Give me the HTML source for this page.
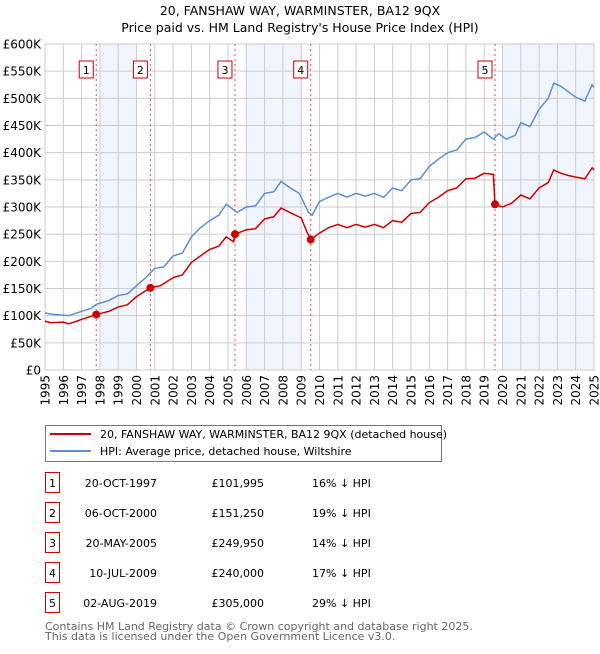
<!DOCTYPE html>
<html><head><meta charset="utf-8"><style>
body{margin:0;background:#fff;width:600px;height:650px;overflow:hidden;font-family:"DejaVu Sans","Liberation Sans",sans-serif}
svg text{font-family:"DejaVu Sans","Liberation Sans",sans-serif}
</style></head><body>
<svg id="c" width="600" height="650" xmlns="http://www.w3.org/2000/svg"></svg>
<script>
const yTicks=[0,50000,100000,150000,200000,250000,300000,350000,400000,450000,500000,550000,600000];
const yTickLabels=["£0","£50K","£100K","£150K","£200K","£250K","£300K","£350K","£400K","£450K","£500K","£550K","£600K"];
const xYears=[1995,1996,1997,1998,1999,2000,2001,2002,2003,2004,2005,2006,2007,2008,2009,2010,2011,2012,2013,2014,2015,2016,2017,2018,2019,2020,2021,2022,2023,2024,2025];
const shadeBands=[[1998,2000],[2006,2009],[2020,2025]];
const hpiT=[1995,1995.5,1996,1996.3,1997,1997.5,1997.8,1998.5,1999,1999.5,2000,2000.5,2001,2001.5,2002,2002.5,2003,2003.5,2004,2004.5,2004.9,2005.5,2006,2006.5,2007,2007.5,2007.9,2008.5,2008.9,2009.4,2009.6,2010,2010.5,2011,2011.5,2012,2012.5,2013,2013.5,2014,2014.5,2015,2015.5,2016,2016.5,2017,2017.5,2018,2018.5,2019,2019.5,2019.8,2020.2,2020.7,2021,2021.5,2022,2022.5,2022.8,2023.2,2023.6,2024,2024.5,2024.9,2025];
const hpiV=[105000,102000,101000,100000,108000,113000,121000,128000,137000,140000,155000,170000,187000,190000,210000,215000,245000,262000,275000,285000,305000,290000,300000,302000,325000,328000,347000,333000,325000,290000,285000,310000,318000,325000,318000,325000,320000,325000,318000,335000,330000,350000,352000,375000,388000,400000,405000,425000,428000,438000,425000,435000,425000,432000,455000,448000,480000,500000,528000,522000,512000,502000,495000,525000,520000];
const ppT=[1995,1995.3,1996,1996.3,1997,1997.8,1998.5,1999,1999.5,2000,2000.76,2001.3,2002,2002.5,2003,2003.5,2004,2004.5,2004.9,2005.3,2005.38,2006,2006.5,2007,2007.5,2007.9,2008.5,2009,2009.3,2009.52,2010,2010.5,2011,2011.5,2012,2012.5,2013,2013.5,2014,2014.5,2015,2015.5,2016,2016.5,2017,2017.5,2018,2018.5,2019,2019.5,2019.59,2020,2020.5,2021,2021.5,2022,2022.5,2022.8,2023.2,2023.6,2024,2024.5,2024.9,2025];
const ppV=[90000,87000,88000,85000,93000,102000,108000,116000,120000,135000,151250,155000,170000,175000,198000,210000,222000,228000,245000,236000,249950,258000,260000,278000,282000,298000,288000,280000,255000,240000,252000,262000,268000,262000,268000,263000,268000,262000,275000,272000,288000,290000,308000,318000,330000,335000,352000,353000,362000,360000,305000,300000,307000,322000,315000,335000,345000,368000,362000,358000,355000,352000,372000,368000];
const saleT=[1997.8,2000.76,2005.38,2009.52,2019.59];
const saleV=[101995,151250,249950,240000,305000];
const saleLabels=["1","2","3","4","5"];
const saleDates=["20-OCT-1997","06-OCT-2000","20-MAY-2005","10-JUL-2009","02-AUG-2019"];
const salePrices=["£101,995","£151,250","£249,950","£240,000","£305,000"];
const saleHpi=["16% ↓ HPI","19% ↓ HPI","14% ↓ HPI","17% ↓ HPI","29% ↓ HPI"];

const L=45,R=594,T=44,B=370;
const x=t=>L+(t-1995)/30*(R-L);
const y=v=>B-v/600000*(B-T);
const s=document.getElementById('c');
const NS='http://www.w3.org/2000/svg';
function mk(tag,attrs,txt){const e=document.createElementNS(NS,tag);for(const k in attrs)e.setAttribute(k,attrs[k]);if(txt!==undefined)e.textContent=txt;s.appendChild(e);return e;}

let e;
e=mk('text',{x:300,y:15,'text-anchor':'middle','font-size':12.5,fill:'#000'},'20, FANSHAW WAY, WARMINSTER, BA12 9QX');


e=mk('text',{x:300,y:32,'text-anchor':'middle','font-size':12.5,fill:'#000'},"Price paid vs. HM Land Registry's House Price Index (HPI)");



shadeBands.forEach(b=>{
 e=mk('rect',{x:x(b[0]),y:T,width:x(b[1])-x(b[0]),height:B-T,fill:'#eef3fc',opacity:0.8});
 
 
});
yTicks.forEach((v,i)=>{
 e=mk('line',{x1:L,x2:R,y1:y(v),y2:y(v),stroke:'#cccccc','stroke-width':1});
 
 
 e=mk('text',{x:L-4,y:y(v)+4.5,'text-anchor':'end','font-size':12,fill:'#000'},yTickLabels[i]);
 
 
});
xYears.forEach(t=>{
 e=mk('line',{x1:x(t),x2:x(t),y1:T,y2:B,stroke:'#cccccc','stroke-width':1});
 
 
 e=mk('text',{x:0,y:0,transform:`translate(${x(t)+4.5},${B+5}) rotate(-90)`,'text-anchor':'end','font-size':12,fill:'#000'},String(t));
 
 
});
e=mk('rect',{x:L,y:T,width:R-L,height:B-T,fill:'none',stroke:'#cccccc'});



saleT.forEach((t,i)=>{
 e=mk('line',{x1:x(t),x2:x(t),y1:T,y2:B,stroke:'#e05050','stroke-width':1,'stroke-dasharray':'2,3'});
 
 
 const bx=x(t)-17;
 e=mk('rect',{x:bx,y:61,width:14,height:17,fill:'#fff',stroke:'#cc0000','stroke-width':1});
 
 
 e=mk('text',{x:bx+7,y:74,'text-anchor':'middle','font-size':11,fill:'#000'},saleLabels[i]);
 
 
});

e=mk('polyline',{points:hpiT.map((t,i)=>x(t)+','+y(hpiV[i])).join(' '),fill:'none',stroke:'#5b8fd4','stroke-width':1.5});


e=mk('polyline',{points:ppT.map((t,i)=>x(t)+','+y(ppV[i])).join(' '),fill:'none',stroke:'#cc0000','stroke-width':1.5});


saleT.forEach((t,i)=>{
 e=mk('circle',{cx:x(t),cy:y(saleV[i]),r:4,fill:'#cc0000'});
 
 
});

e=mk('rect',{x:45.5,y:425.5,width:396,height:36,fill:'#fff',stroke:'#777'});


e=mk('line',{x1:50,x2:91,y1:434,y2:434,stroke:'#cc0000','stroke-width':2});


e=mk('text',{x:100,y:438,'font-size':11,fill:'#000'},'20, FANSHAW WAY, WARMINSTER, BA12 9QX (detached house)');


e=mk('line',{x1:50,x2:91,y1:451,y2:451,stroke:'#5b8fd4','stroke-width':2});


e=mk('text',{x:100,y:455,'font-size':11,fill:'#000'},'HPI: Average price, detached house, Wiltshire');



saleLabels.forEach((lab,i)=>{
 const cy=483+i*30;
 e=mk('rect',{x:45.5,y:cy-10.5,width:14,height:20,fill:'#fff',stroke:'#cc0000'});
 
 
 e=mk('text',{x:52.5,y:cy+4,'text-anchor':'middle','font-size':11,fill:'#000'},lab);
 
 
 e=mk('text',{x:157,y:cy+4,'text-anchor':'end','font-size':11,fill:'#000'},saleDates[i]);
 
 
 e=mk('text',{x:264,y:cy+4,'text-anchor':'end','font-size':11,fill:'#000'},salePrices[i]);
 
 
 e=mk('text',{x:312,y:cy+4,'font-size':11,fill:'#000'},saleHpi[i]);
 
 
});
e=mk('text',{x:45,y:630,'font-size':11,fill:'#666'},'Contains HM Land Registry data © Crown copyright and database right 2025.');


e=mk('text',{x:45,y:640,'font-size':11,fill:'#666'},'This data is licensed under the Open Government Licence v3.0.');


</script>
</body></html>
